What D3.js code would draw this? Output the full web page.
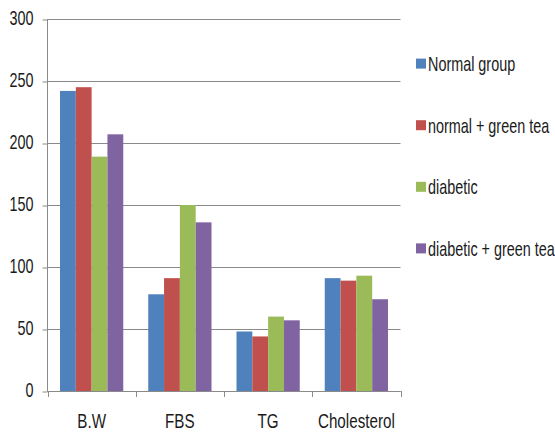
<!DOCTYPE html>
<html>
<head>
<meta charset="utf-8">
<script src="https://cdn.jsdelivr.net/npm/d3@7"></script>
<style>
  html, body { margin: 0; padding: 0; background: #fff; }
  svg { display: block; }
  text { font-family: "Liberation Sans", Arial, sans-serif; fill: #1a1a1a; }
</style>
</head>
<body>
<svg id="chart" width="555" height="434"></svg>
<script>
// Measures per group
const categories = ["B.W", "FBS", "TG", "Cholesterol"];
const seriesNames = ["Normal group", "normal + green tea", "diabetic", "diabetic + green tea"];
const normalGroup = [242, 78, 48, 91];
const normalGreenTea = [245, 91, 44, 89];
const diabetic = [189, 150, 60, 93];
const diabeticGreenTea = [207, 136, 57, 74];
const yTicks = [0, 50, 100, 150, 200, 250, 300];
const colors = ["#4F81BD", "#C0504D", "#9BBB59", "#8064A2"];

const seriesValues = [normalGroup, normalGreenTea, diabetic, diabeticGreenTea];

const svg = d3.select("#chart");
const plot = { left: 47.5, right: 400.5, top: 19, bottom: 391 };
const fontSize = 20;

// Narrow the glyphs horizontally, keeping the anchor point fixed
function condense(sel, factor) {
  sel.each(function () {
    const ax = +d3.select(this).attr("x") || 0;
    d3.select(this).attr("transform", `translate(${ax},0) scale(${factor},1) translate(${-ax},0)`);
  });
}

const x = d3.scaleBand().domain(categories).range([plot.left, plot.right]).padding(0);
const xInner = d3.scaleBand().domain(d3.range(seriesNames.length))
  .range([0, x.bandwidth()]).paddingInner(0).paddingOuter(0.79);
const y = d3.scaleLinear().domain([0, 300]).range([plot.bottom, plot.top]);

const gridColor = "#8a8a8a";

// Horizontal gridlines
svg.append("g").selectAll("line").data(yTicks).join("line")
  .attr("x1", plot.left).attr("x2", plot.right)
  .attr("y1", d => Math.round(y(d)) + 0.5).attr("y2", d => Math.round(y(d)) + 0.5)
  .attr("stroke", gridColor).attr("stroke-width", 1);

// Y axis ticks and labels
const yAxis = d3.axisLeft(y).tickValues(yTicks).tickSize(5).tickPadding(9).tickFormat(d3.format("d"));
const gy = svg.append("g").attr("transform", `translate(${plot.left},0.5)`).call(yAxis);
gy.select(".domain").remove();
gy.selectAll(".tick line").attr("stroke", gridColor);
gy.selectAll(".tick text")
  .attr("font-size", fontSize).attr("fill", "#1a1a1a").attr("dy", "0.27em")
  .attr("font-family", "'Liberation Sans', Arial, sans-serif")
  .call(condense, 0.72);

// Vertical axis line
svg.append("line")
  .attr("x1", plot.left).attr("x2", plot.left)
  .attr("y1", plot.top).attr("y2", plot.bottom + 0.5)
  .attr("stroke", gridColor);

// Bars
const groups = svg.append("g").selectAll("g").data(categories).join("g")
  .attr("transform", d => `translate(${x(d)},0)`);
groups.selectAll("rect")
  .data((c, ci) => seriesValues.map((vals, si) => ({ si, v: vals[ci] })))
  .join("rect")
  .attr("x", d => xInner(d.si))
  .attr("width", xInner.bandwidth())
  .attr("y", d => y(d.v))
  .attr("height", d => y(0) - y(d.v))
  .attr("fill", d => colors[d.si]);

// X axis with category boundary ticks
svg.append("line")
  .attr("x1", plot.left).attr("x2", plot.right)
  .attr("y1", plot.bottom + 0.5).attr("y2", plot.bottom + 0.5)
  .attr("stroke", gridColor);
const boundaries = categories.map(c => x(c)).concat([x(categories[categories.length - 1]) + x.bandwidth()]);
svg.append("g").selectAll("line").data(boundaries).join("line")
  .attr("x1", d => Math.round(d) + 0.5).attr("x2", d => Math.round(d) + 0.5)
  .attr("y1", plot.bottom).attr("y2", plot.bottom + 6)
  .attr("stroke", gridColor);
svg.append("g").selectAll("text").data(categories).join("text")
  .attr("x", d => x(d) + x.bandwidth() / 2)
  .attr("y", 428)
  .attr("text-anchor", "middle")
  .attr("font-size", fontSize)
  .text(d => d)
  .call(condense, 0.76);

// Legend
const legend = svg.append("g").selectAll("g").data(seriesNames).join("g")
  .attr("transform", (d, i) => `translate(416,${63.6 + i * 61.6})`);
legend.append("rect")
  .attr("x", 0).attr("y", -5).attr("width", 10).attr("height", 10)
  .attr("fill", (d, i) => colors[i]);
legend.append("text")
  .attr("x", 12).attr("y", 7.3)
  .attr("font-size", fontSize)
  .text(d => d)
  .call(condense, 0.72);
</script>
</body>
</html>
